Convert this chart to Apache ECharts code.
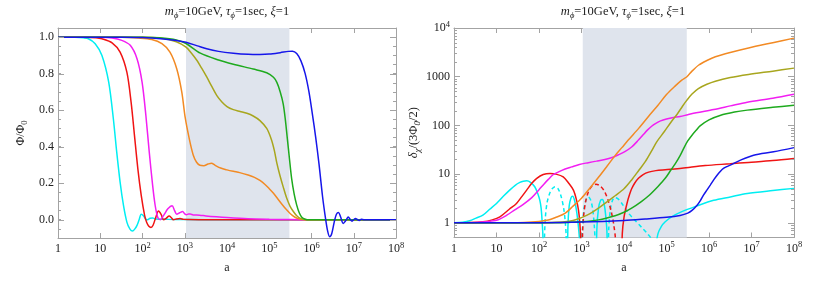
<!DOCTYPE html>
<html><head><meta charset="utf-8">
<script src="https://cdn.jsdelivr.net/npm/echarts@6/dist/echarts.min.js"></script>
<style>html,body{margin:0;padding:0;background:#fff}#c{width:830px;height:281px}</style>
</head><body><div id="c"></div>
<script>
// ---- data: pairs of [log10(a), value] ----
// Left panel: Phi/Phi0
const L_cyan = [[0,1],[0.4,0.999],[0.6,0.996],[0.72,0.991],[0.88,0.964],[1.04,0.9],[1.2,0.754],[1.31,0.553],[1.39,0.37],[1.47,0.206],[1.55,0.078],[1.63,-0.013],[1.70,-0.05],[1.765,-0.062],[1.82,-0.05],[1.87,-0.031],[1.92,0.0],[1.97,0.03],[2.02,0.022],[2.08,0.002],[2.12,0.0],[2.18,0.008],[2.24,0.01],[2.3,0.004],[2.4,0.003],[2.6,0.002],[3,0.001],[4,0],[8,0]];
const L_red = [[0,1],[0.6,1],[0.9,0.997],[1.04,0.991],[1.28,0.969],[1.47,0.918],[1.63,0.808],[1.73,0.644],[1.81,0.462],[1.89,0.279],[1.97,0.133],[2.05,0.024],[2.1,-0.015],[2.15,-0.036],[2.2,-0.042],[2.25,-0.03],[2.31,0.01],[2.38,0.048],[2.44,0.03],[2.5,0.0],[2.56,0.008],[2.63,0.02],[2.68,0.012],[2.73,0.0],[2.8,0.004],[2.89,0.007],[2.97,0.002],[3.1,0.001],[3.5,0],[8,0]];
const L_magenta = [[0,1],[1.0,0.999],[1.28,0.995],[1.51,0.982],[1.71,0.955],[1.87,0.882],[1.99,0.754],[2.08,0.571],[2.16,0.37],[2.24,0.188],[2.30,0.078],[2.36,0.014],[2.42,0.0],[2.5,0.024],[2.6,0.06],[2.7,0.077],[2.76,0.05],[2.81,0.03],[2.88,0.038],[2.95,0.045],[3.0,0.032],[3.04,0.027],[3.09,0.031],[3.13,0.031],[3.2,0.026],[3.35,0.025],[3.5,0.021],[3.75,0.016],[4,0.012],[4.5,0.006],[5,0.003],[5.5,0.001],[6,0],[8,0]];
const L_orange = [[0,1],[1.5,0.999],[1.9,0.995],[2.22,0.987],[2.46,0.964],[2.65,0.918],[2.81,0.827],[2.93,0.699],[3.01,0.56],[3.11,0.44],[3.2,0.355],[3.28,0.315],[3.36,0.298],[3.45,0.296],[3.55,0.305],[3.63,0.31],[3.72,0.298],[3.85,0.283],[4.0,0.273],[4.15,0.265],[4.3,0.258],[4.5,0.245],[4.65,0.232],[4.78,0.215],[4.9,0.193],[5.0,0.17],[5.1,0.145],[5.2,0.115],[5.3,0.085],[5.4,0.057],[5.5,0.033],[5.6,0.015],[5.7,0.005],[5.8,0.001],[5.9,0],[8,0]];
const L_olive = [[0,1],[2.0,0.999],[2.4,0.995],[2.8,0.975],[3.03,0.945],[3.15,0.915],[3.29,0.872],[3.4,0.83],[3.52,0.782],[3.64,0.73],[3.76,0.68],[3.88,0.645],[4.0,0.62],[4.15,0.603],[4.31,0.593],[4.47,0.583],[4.62,0.568],[4.78,0.543],[4.94,0.5],[5.05,0.44],[5.12,0.38],[5.18,0.31],[5.25,0.245],[5.33,0.18],[5.41,0.12],[5.49,0.075],[5.57,0.045],[5.65,0.022],[5.75,0.006],[5.85,0.001],[5.95,0],[8,0]];
const L_green = [[0,1],[2.0,0.999],[2.4,0.996],[2.8,0.985],[3.03,0.965],[3.37,0.912],[3.8,0.875],[4.15,0.852],[4.62,0.825],[4.94,0.805],[5.1,0.78],[5.18,0.752],[5.26,0.7],[5.33,0.635],[5.38,0.55],[5.43,0.44],[5.48,0.33],[5.53,0.225],[5.59,0.14],[5.65,0.08],[5.71,0.038],[5.77,0.014],[5.85,0.003],[5.95,0],[8,0]];
const L_blue = [[0,1],[1.5,1],[2.0,0.998],[2.5,0.99],[2.8,0.982],[3.03,0.972],[3.3,0.952],[3.52,0.936],[3.8,0.922],[4.15,0.912],[4.5,0.906],[4.78,0.905],[5.0,0.907],[5.26,0.915],[5.45,0.922],[5.55,0.923],[5.65,0.91],[5.75,0.87],[5.85,0.8],[5.94,0.7],[6.02,0.58],[6.1,0.45],[6.18,0.3],[6.26,0.13],[6.33,0.01],[6.38,-0.06],[6.43,-0.093],[6.48,-0.075],[6.54,-0.01],[6.59,0.03],[6.64,0.04],[6.69,0.015],[6.75,-0.02],[6.81,-0.005],[6.87,0.015],[6.92,0.0],[6.96,-0.008],[7.0,0],[7.04,0.007],[7.09,0],[7.13,-0.004],[7.18,0.003],[7.25,0],[8,0]];

// Right panel: delta_chi/(3Phi0/2); segments split at sign changes (dashed = negative)
const R_cyan_solid = [
  [[0,1],[0.2,1.03],[0.37,1.1],[0.52,1.25],[0.68,1.44],[0.84,1.9],[1.0,2.5],[1.16,3.5],[1.31,4.7],[1.44,5.9],[1.55,6.75],[1.63,7.15],[1.71,7.3],[1.8,6.8],[1.9,5.5],[1.97,4.0],[2.02,2.9],[2.05,2.0],[2.07,1.2],[2.09,0.6],[2.1,0.3],[2.105,0.05]],
  [[2.665,0.05],[2.68,0.8],[2.71,2.2],[2.75,3.2],[2.79,3.5],[2.84,2.8],[2.89,1.6],[2.93,0.8],[2.955,0.4],[2.97,0.05]],
  [[3.345,0.05],[3.36,0.7],[3.4,2.0],[3.45,2.9],[3.49,3.0],[3.53,2.5],[3.57,1.4],[3.6,0.6],[3.615,0.05]],
  [[4.73,0.05],[4.75,0.3],[4.8,0.6],[4.88,0.85],[4.97,1.05],[5.1,1.3],[5.36,1.7],[5.7,2.2],[6.11,2.9],[6.5,3.4],[6.9,4.0],[7.5,4.6],[8,5.1]]
];
const R_cyan_dashed = [
  [[2.12,0.05],[2.13,0.5],[2.15,1.3],[2.19,2.6],[2.25,4.0],[2.31,5.0],[2.38,5.5],[2.45,5.0],[2.52,3.5],[2.58,2.0],[2.62,1.0],[2.64,0.5],[2.655,0.05]],
  [[3.0,0.05],[3.02,0.7],[3.06,2.0],[3.11,3.0],[3.16,3.4],[3.21,3.0],[3.26,2.0],[3.3,0.9],[3.32,0.4],[3.33,0.05]],
  [[3.625,0.05],[3.64,0.7],[3.68,1.9],[3.73,2.9],[3.79,3.3],[3.86,3.1],[3.95,2.5],[4.1,1.6],[4.25,1.15],[4.42,0.8],[4.55,0.6],[4.65,0.45],[4.7,0.2],[4.72,0.05]]
];
const R_red_solid = [
  [[0,1],[0.3,1.01],[0.68,1.05],[0.9,1.15],[1.08,1.33],[1.3,1.9],[1.47,2.5],[1.6,3.5],[1.71,4.7],[1.83,6.5],[1.94,8.1],[2.1,9.8],[2.26,10.3],[2.4,10.0],[2.57,8.8],[2.7,6.5],[2.81,4.7],[2.88,3.0],[2.93,1.8],[2.96,1.0],[2.98,0.5],[2.995,0.05]],
  [[3.93,0.05],[3.96,0.6],[4.0,1.3],[4.07,2.5],[4.13,3.8],[4.18,5.0],[4.25,6.5],[4.34,8.2],[4.45,9.8],[4.58,11.0],[4.75,11.8],[4.97,12.3],[5.36,13.2],[5.91,15.0],[6.5,16.3],[6.93,17.4],[7.5,19],[8,21]]
];
const R_red_dashed = [
  [[3.01,0.05],[3.025,0.6],[3.05,1.4],[3.1,2.8],[3.17,4.5],[3.25,5.7],[3.34,6.2],[3.43,5.8],[3.53,4.6],[3.62,3.0],[3.7,1.7],[3.76,0.9],[3.8,0.45],[3.83,0.05]]
];
const R_magenta = [[0,1],[0.4,1.01],[0.65,1.04],[0.85,1.08],[1.04,1.16],[1.25,1.45],[1.43,1.85],[1.63,2.4],[1.83,3.3],[2.0,4.8],[2.12,6.3],[2.22,7.8],[2.33,9.7],[2.45,11],[2.6,12.6],[2.77,14.1],[2.95,15.8],[3.16,17.2],[3.35,18.5],[3.55,20],[3.72,22],[3.87,25],[4.02,29],[4.18,36],[4.34,50],[4.45,64],[4.55,80],[4.65,96],[4.73,108],[4.86,124],[5.0,136],[5.16,146],[5.32,152],[5.5,166],[5.7,182],[6.11,212],[6.5,252],[6.9,300],[7.5,360],[8,435]];
const R_orange = [[0,1],[1.0,1.0],[1.5,1.01],[1.83,1.04],[2.0,1.07],[2.22,1.14],[2.4,1.3],[2.61,1.56],[2.8,2.2],[3.0,3.2],[3.2,5.2],[3.4,8.6],[3.6,14.5],[3.79,24],[3.95,35],[4.1,50],[4.35,88],[4.58,155],[4.8,260],[5.0,430],[5.2,640],[5.36,850],[5.48,1000],[5.6,1300],[5.76,1740],[5.95,2150],[6.15,2570],[6.5,3150],[6.93,3900],[7.5,5000],[8,6200]];
const R_olive = [[0,1],[1.5,1],[2.3,1.02],[2.61,1.05],[2.8,1.12],[3.0,1.28],[3.2,1.55],[3.4,2.0],[3.6,2.7],[3.79,3.6],[4.0,5.0],[4.18,7.6],[4.35,12],[4.5,18],[4.65,30],[4.77,46],[4.95,75],[5.1,115],[5.25,170],[5.38,250],[5.48,330],[5.6,440],[5.75,570],[5.95,700],[6.15,810],[6.5,960],[6.93,1110],[7.5,1300],[8,1500]];
const R_green = [[0,1],[2.5,1.01],[3.0,1.05],[3.4,1.15],[3.79,1.4],[4.0,1.65],[4.18,2.0],[4.4,2.7],[4.58,3.6],[4.8,5.6],[4.97,8.2],[5.1,12],[5.2,16],[5.32,24],[5.42,36],[5.5,48],[5.6,63],[5.7,80],[5.79,98],[6.0,130],[6.26,160],[6.6,188],[6.9,206],[7.5,235],[8,260]];
const R_blue = [[0,1],[2,1.01],[3,1.04],[4,1.12],[4.5,1.2],[5,1.3],[5.32,1.42],[5.5,1.58],[5.6,1.8],[5.72,2.3],[5.8,2.9],[5.87,3.7],[5.95,4.7],[6.03,5.95],[6.11,7.6],[6.19,9.5],[6.27,11.5],[6.34,13.1],[6.42,14.3],[6.5,15.3],[6.74,19.4],[7.05,24.5],[7.52,28.7],[8,35]];

// shaded band in a
const shadeBand = [1070, 3.0e5];
// tick values
const leftMajorTicks = [0, 0.2, 0.4, 0.6, 0.8, 1.0];
const rightMinorTicks = [0.6,0.7,0.8,0.9,2,3,4,5,6,7,8,9,20,30,40,50,60,70,80,90,200,300,400,500,600,700,800,900,2000,3000,4000,5000,6000,7000,8000,9000];

// ---- styling ----
const FONT = '"Liberation Serif","Times New Roman",serif';
const FRAME = '#a3a3a3';
const TXT = '#222';
const COL = {cyan:'#00eef2', red:'#f01414', magenta:'#f21ef2', orange:'#f28a24', olive:'#a8a61e', green:'#1eaa1e', blue:'#1616ea'};

const chart = echarts.init(document.getElementById('c'), null, {renderer:'canvas'});
const toXY = arr => arr.map(p => [Math.pow(10, p[0]), p[1]]);

const richLab = {
  b: {fontFamily: FONT, fontSize: 12, lineHeight: 16, color: TXT},
  s: {fontFamily: FONT, fontSize: 8.5, lineHeight: 9, verticalAlign: 'top', color: TXT}
};
const isPow = v => Math.abs(Math.log10(v) - Math.round(Math.log10(v))) < 1e-6;
const xFmt = v => {
  if (!isPow(v)) return '';
  const e = Math.round(Math.log10(v));
  if (e === 0) return '{b|1}';
  if (e === 1) return '{b|10}';
  return '{b|10}{s|' + e + '}';
};
const yLogFmt = v => {
  if (!isPow(v)) return '';
  const e = Math.round(Math.log10(v));
  if (e < 0) return '';
  if (e <= 3) return '{b|' + Math.pow(10, e) + '}';
  return '{b|10}{s|' + e + '}';
};
const yLinFmt = v => {
  const k = Math.round(v * 10);
  if (Math.abs(v * 10 - k) > 1e-6 || k < 0 || k > 10 || k % 2) return '';
  return (k / 10).toFixed(1);
};

function xAxisDef(g, pos) {
  const a = {
    type: 'log', logBase: 10, gridIndex: g, min: 1, max: 1e8, position: pos,
    axisLine: {show: true, onZero: false, lineStyle: {color: FRAME, width: 1}},
    axisTick: {show: true, inside: true, length: 5, lineStyle: {color: FRAME}},
    splitLine: {show: false}, minorTick: {show: false},
    axisLabel: {show: pos === 'bottom', formatter: xFmt, rich: richLab, margin: 3}
  };
  if (pos === 'bottom') {
    a.name = 'a'; a.nameLocation = 'middle'; a.nameGap = 24;
    a.nameTextStyle = {fontFamily: FONT, fontSize: 12, color: TXT};
  }
  return a;
}
function yLinDef(pos) {
  const a = {
    type: 'value', gridIndex: 0, min: -0.1, max: 1.05, interval: 0.05, position: pos,
    axisLine: {show: true, onZero: false, lineStyle: {color: FRAME, width: 1}},
    axisTick: {show: true, inside: true, length: 3, lineStyle: {color: FRAME}},
    splitLine: {show: false},
    axisLabel: {show: pos === 'left', formatter: yLinFmt, fontFamily: FONT, fontSize: 12, color: TXT, margin: 4}
  };
  if (pos === 'left') {
    a.name = '{n|Φ/Φ}{s|0}'; a.nameLocation = 'middle'; a.nameGap = 29; a.nameRotate = 90;
    a.nameTextStyle = {rich: {n: {fontFamily: FONT, fontSize: 12, lineHeight: 16, color: TXT}, s: {fontFamily: FONT, fontSize: 8.5, lineHeight: 9, verticalAlign: 'bottom', color: TXT}}};
  }
  return a;
}
function yLogDef(pos) {
  const a = {
    type: 'log', logBase: 10, gridIndex: 1, min: 0.5, max: 1e4, position: pos,
    axisLine: {show: true, onZero: false, lineStyle: {color: FRAME, width: 1}},
    axisTick: {show: true, inside: true, length: 6, lineStyle: {color: FRAME}},
    splitLine: {show: false}, minorTick: {show: false},
    axisLabel: {show: pos === 'left', formatter: yLogFmt, rich: richLab, margin: 4}
  };
  if (pos === 'left') {
    a.name = '{i|δ}{s|χ}{n|/(3Φ}{s|0}{n|/2)}'; a.nameLocation = 'middle'; a.nameGap = 29; a.nameRotate = 90;
    a.nameTextStyle = {rich: {
      n: {fontFamily: FONT, fontSize: 12.5, lineHeight: 16, color: TXT},
      i: {fontFamily: FONT, fontSize: 12.5, lineHeight: 16, fontStyle: 'italic', color: TXT},
      s: {fontFamily: FONT, fontSize: 9, lineHeight: 9, verticalAlign: 'bottom', fontStyle: 'italic', color: TXT}}};
  }
  return a;
}

function lineSeries(xi, yi, d, color, dashed) {
  return {
    type: 'line', xAxisIndex: xi, yAxisIndex: yi, data: toXY(d),
    showSymbol: false, symbol: 'none', smooth: 0.3, silent: true, animation: false, z: 3,
    lineStyle: {color: color, width: 1.5, type: dashed ? [4, 3] : 'solid'}
  };
}
function shadeSeries(xi, yi) {
  return {
    type: 'line', xAxisIndex: xi, yAxisIndex: yi, data: [], z: 1, silent: true, animation: false,
    markArea: {silent: true, itemStyle: {color: '#dfe4ed', opacity: 1},
      data: [[{xAxis: shadeBand[0]}, {xAxis: shadeBand[1]}]]}
  };
}
function yTickSeries(xi, yi, vals, len, xval) {
  return {
    type: 'custom', coordinateSystem: 'cartesian2d', xAxisIndex: xi, yAxisIndex: yi,
    silent: true, clip: false, z: 6, animation: false,
    data: vals.map(v => [xval, v]),
    renderItem: (params, api) => {
      const cs = params.coordSys;
      const y = Math.round(api.coord([api.value(0), api.value(1)])[1]) + 0.5;
      const st = {stroke: FRAME, lineWidth: 1};
      return {type: 'group', children: [
        {type: 'line', shape: {x1: cs.x, y1: y, x2: cs.x + len, y2: y}, style: st},
        {type: 'line', shape: {x1: cs.x + cs.width - len, y1: y, x2: cs.x + cs.width, y2: y}, style: st}
      ]};
    }
  };
}

const series = [];
series.push(shadeSeries(0, 0));
series.push(shadeSeries(2, 2));
// left panel
series.push(lineSeries(0, 0, L_cyan, COL.cyan));
series.push(lineSeries(0, 0, L_red, COL.red));
series.push(lineSeries(0, 0, L_magenta, COL.magenta));
series.push(lineSeries(0, 0, L_orange, COL.orange));
series.push(lineSeries(0, 0, L_olive, COL.olive));
series.push(lineSeries(0, 0, L_green, COL.green));
series.push(lineSeries(0, 0, L_blue, COL.blue));
series.push(yTickSeries(0, 0, leftMajorTicks, 6, 1));
// right panel
R_cyan_solid.forEach(s => series.push(lineSeries(2, 2, s, COL.cyan)));
R_cyan_dashed.forEach(s => series.push(lineSeries(2, 2, s, COL.cyan, true)));
R_red_solid.forEach(s => series.push(lineSeries(2, 2, s, COL.red)));
R_red_dashed.forEach(s => series.push(lineSeries(2, 2, s, COL.red, true)));
series.push(lineSeries(2, 2, R_magenta, COL.magenta));
series.push(lineSeries(2, 2, R_orange, COL.orange));
series.push(lineSeries(2, 2, R_olive, COL.olive));
series.push(lineSeries(2, 2, R_green, COL.green));
series.push(lineSeries(2, 2, R_blue, COL.blue));
series.push(yTickSeries(2, 2, rightMinorTicks, 3, 1));

const titleRich = {
  n: {fontFamily: FONT, fontSize: 12.5, lineHeight: 16, fill: TXT},
  i: {fontFamily: FONT, fontSize: 12.5, lineHeight: 16, fontStyle: 'italic', fill: TXT},
  sb: {fontFamily: FONT, fontSize: 8.5, lineHeight: 8, verticalAlign: 'bottom', fontStyle: 'italic', fill: TXT}
};
const titleText = '{i|m}{sb|ϕ}{n|=10GeV, }{i|τ}{sb|ϕ}{n|=1sec, }{i|ξ}{n|=1}';

chart.setOption({
  animation: false,
  backgroundColor: '#fff',
  grid: [
    {left: 58, top: 28, width: 338, height: 210, outerBoundsMode: 'none', containLabel: false},
    {left: 454, top: 28, width: 340, height: 209.5, outerBoundsMode: 'none', containLabel: false}
  ],
  xAxis: [xAxisDef(0, 'bottom'), xAxisDef(0, 'top'), xAxisDef(1, 'bottom'), xAxisDef(1, 'top')],
  yAxis: [yLinDef('left'), yLinDef('right'), yLogDef('left'), yLogDef('right')],
  graphic: [
    {type: 'text', x: 227, y: 12, style: {text: titleText, rich: titleRich, align: 'center', verticalAlign: 'middle', fontFamily: FONT, fontSize: 12.5, fill: TXT}},
    {type: 'text', x: 623, y: 12, style: {text: titleText, rich: titleRich, align: 'center', verticalAlign: 'middle', fontFamily: FONT, fontSize: 12.5, fill: TXT}}
  ],
  series: series
});
</script>
</body></html>
